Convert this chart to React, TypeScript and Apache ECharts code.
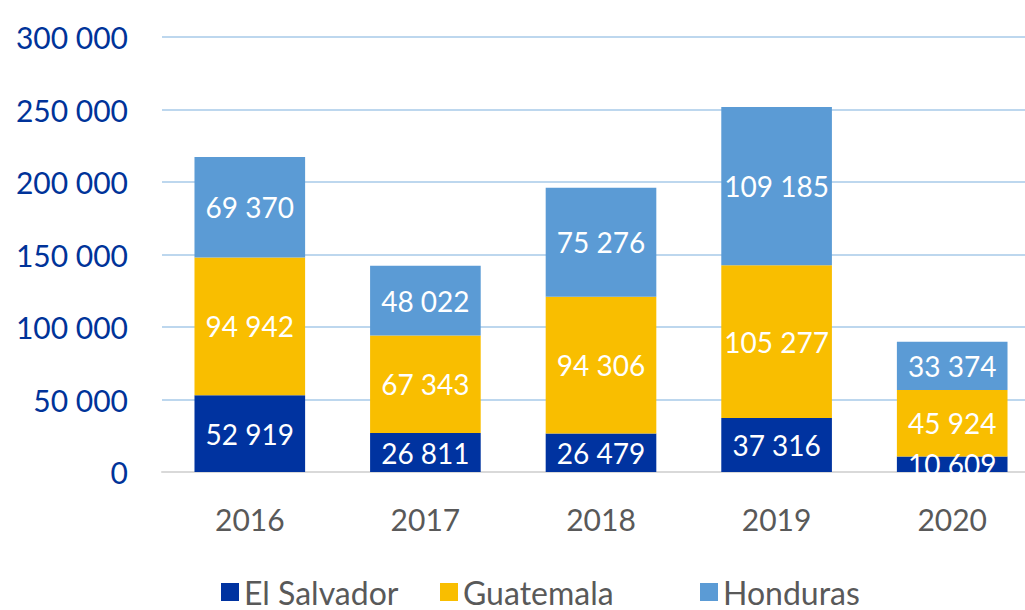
import React, { useEffect, useRef } from "react";
import * as echarts from "echarts";

const categories = ["2016", "2017", "2018", "2019", "2020"];
const elSalvador = [52919, 26811, 26479, 37316, 10609];
const guatemala = [94942, 67343, 94306, 105277, 45924];
const honduras = [69370, 48022, 75276, 109185, 33374];
const yTicks = [0, 50000, 100000, 150000, 200000, 250000, 300000];
const seriesNames = ["El Salvador", "Guatemala", "Honduras"];

const FONT = "Lato";
const fmt = (v: number) => String(v).replace(/\B(?=(\d{3})+(?!\d))/g, " ");

export default function App() {
  const ref = useRef<HTMLDivElement>(null);
  useEffect(() => {
    const chart = echarts.init(ref.current!, null, { renderer: "svg" });
    const label = {
      show: true,
      position: "inside" as const,
      color: "#ffffff",
      fontFamily: FONT,
      fontSize: 28,
      formatter: (p: any) => fmt(p.value),
    };
    const mk = (name: string, data: number[], color: string) => ({
      name,
      type: "bar" as const,
      stack: "total",
      data,
      barWidth: "63%",
      itemStyle: { color },
      label,
    });
    const legendLefts = [216, 435, 695];
    chart.setOption({
      animation: false,
      textStyle: { fontFamily: FONT },
      grid: { left: 162, right: 0, top: 37, bottom: 138 },
      legend: seriesNames.map((n, i) => ({
        left: legendLefts[i],
        bottom: -3,
        itemWidth: 18,
        itemHeight: 18,
        icon: "rect",
        textStyle: { color: "#595959", fontSize: 32, fontFamily: FONT },
        data: [n],
      })),
      xAxis: {
        type: "category",
        data: categories,
        axisLine: { lineStyle: { color: "#d9d9d9", width: 2 } },
        axisTick: { show: false },
        axisLabel: { color: "#595959", fontSize: 30, fontFamily: FONT, margin: 32 },
      },
      yAxis: {
        type: "value",
        min: yTicks[0],
        max: yTicks[yTicks.length - 1],
        interval: 50000,
        axisLine: { show: false },
        axisTick: { show: false },
        splitLine: { lineStyle: { color: "#bdd7ee", width: 2 } },
        axisLabel: {
          color: "#003399",
          fontSize: 30,
          fontFamily: FONT,
          margin: 34,
          formatter: (v: number) => fmt(v),
        },
      },
      series: [
        mk(seriesNames[0], elSalvador, "#0033a0"),
        mk(seriesNames[1], guatemala, "#f9be00"),
        mk(seriesNames[2], honduras, "#5b9bd5"),
      ],
    });
    return () => chart.dispose();
  }, []);
  return (
    <div
      style={{ position: "fixed", left: 0, top: 0, width: 1025, height: 610, overflow: "hidden", background: "#fff" }}
    >
      <div ref={ref} style={{ width: 1040, height: 610 }} />
    </div>
  );
}
